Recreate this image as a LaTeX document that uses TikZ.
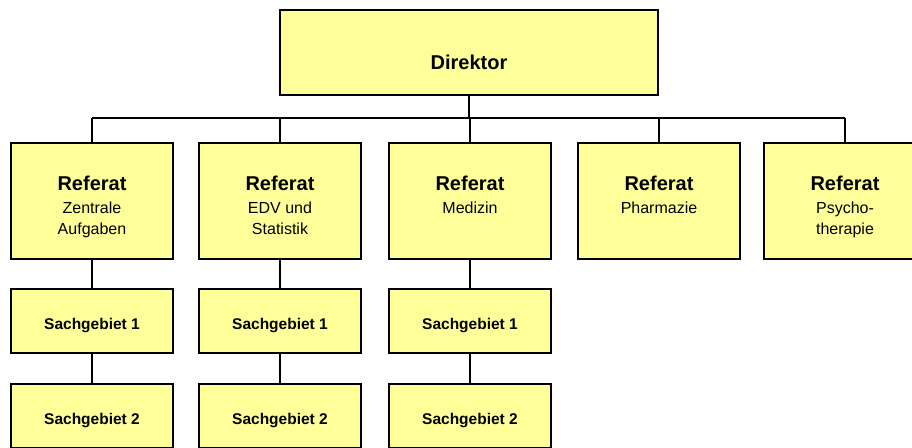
\documentclass[tikz,border=0pt]{standalone}
\usepackage{fontspec}
\setmainfont{Liberation Sans}
\definecolor{boxyellow}{HTML}{FFFF99}
\begin{document}
\begin{tikzpicture}[x=1pt,y=-1pt,line width=2pt,
  box/.style={draw=black,fill=boxyellow,line width=2pt,inner sep=0pt,rectangle},
  refbox/.style={box,minimum width=162pt,minimum height=116pt},
  sachbox/.style={box,minimum width=162pt,minimum height=64pt,
    font=\fontsize{15.5}{19}\selectfont\bfseries,text height=17pt,text depth=0pt},
  titletext/.style={font=\fontsize{20}{24}\selectfont\bfseries,inner sep=0pt,anchor=base},
  subtext/.style={font=\fontsize{16}{21}\selectfont,inner sep=0pt,align=center,anchor=base}]
\useasboundingbox (0,0) rectangle (912,447);
% Director
\node[box,minimum width=378pt,minimum height=85pt] (d) at (469,52.5) {};
\node[titletext] (dt) at (469,69) {Direktor};
% bus
\coordinate (busL) at (92,118);
\coordinate (busR) at (845,118);
\draw (busL) -- (busR);
\draw (d.south) -- (d.south |- busL);
% Referate
\node[refbox] (r1) at (92,201) {};
\node[refbox] (r2) at (280,201) {};
\node[refbox] (r3) at (470,201) {};
\node[refbox] (r4) at (659,201) {};
\node[refbox] (r5) at (845,201) {};
\foreach \r in {r1,r2,r3,r4,r5} {
  \draw (\r.north) -- (\r.north |- busL);
}
\node[titletext] (r1t) at (92,190) {Referat};
\node[titletext] (r2t) at (280,190) {Referat};
\node[titletext] (r3t) at (470,190) {Referat};
\node[titletext] (r4t) at (659,190) {Referat};
\node[titletext] (r5t) at (845,190) {Referat};
\node[subtext] (r1s) at (92,234) {Zentrale\\Aufgaben};
\node[subtext] (r2s) at (280,234) {EDV und\\Statistik};
\node[subtext] (r3s) at (470,213) {Medizin};
\node[subtext] (r4s) at (659,213) {Pharmazie};
\node[subtext] (r5s) at (845,234) {Psycho-\\therapie};
% Sachgebiete
\node[sachbox] (s11) at (92,321) {Sachgebiet 1};
\node[sachbox] (s21) at (280,321) {Sachgebiet 1};
\node[sachbox] (s31) at (470,321) {Sachgebiet 1};
\node[sachbox] (s12) at (92,416) {Sachgebiet 2};
\node[sachbox] (s22) at (280,416) {Sachgebiet 2};
\node[sachbox] (s32) at (470,416) {Sachgebiet 2};
\draw (r1.south) -- (s11.north);
\draw (r2.south) -- (s21.north);
\draw (r3.south) -- (s31.north);
\draw (s11.south) -- (s12.north);
\draw (s21.south) -- (s22.north);
\draw (s31.south) -- (s32.north);
\end{tikzpicture}
\end{document}
